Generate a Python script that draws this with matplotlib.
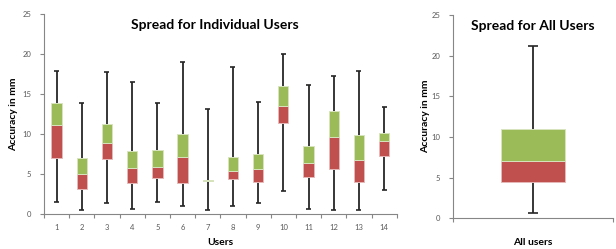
import numpy as np
import matplotlib
matplotlib.use('Agg')
import matplotlib.pyplot as plt

plt.rcParams['font.family'] = ['Lato', 'DejaVu Sans']

# per-user spread (mm)
users = ['1', '2', '3', '4', '5', '6', '7', '8', '9', '10', '11', '12', '13', '14']
mins = [1.5, 0.5, 1.4, 0.7, 1.5, 1.1, 0.5, 1.0, 1.4, 2.9, 0.7, 0.5, 0.5, 3.0]
q1 = [7.0, 3.15, 6.95, 3.95, 4.6, 3.9, 4.2, 4.45, 4.1, 11.4, 4.7, 5.7, 4.1, 7.3]
medians = [11.15, 5.05, 8.95, 5.8, 5.95, 7.2, 4.2, 5.45, 5.65, 13.55, 6.35, 9.7, 6.75, 9.2]
q3 = [13.85, 7.05, 11.25, 7.85, 8.0, 10.0, 4.3, 7.15, 7.55, 16.05, 8.55, 12.9, 9.95, 10.2]
maxs = [17.85, 13.9, 17.7, 16.55, 13.9, 19.0, 13.2, 18.4, 14.0, 20.0, 16.2, 17.2, 17.9, 13.45]

# all users together
all_label = ['All users']
all_min = [0.6]
all_q1 = [4.5]
all_median = [7.05]
all_q3 = [10.95]
all_max = [21.15]

RED = '#C0504D'
GREEN = '#9BBB59'
RED_EDGE = '#E6B9B8'
GREEN_EDGE = '#D7E4BD'
AXIS = '#868686'
TICK = '#595959'


def draw_boxes(ax, x, lo, q_1, med, q_3, hi, width, capw):
    x = np.asarray(x, dtype=float)
    lo, q_1, med, q_3, hi = map(np.asarray, (lo, q_1, med, q_3, hi))
    ax.vlines(x, lo, hi, color='#262626', lw=1.3, zorder=1)
    ax.hlines(lo, x - capw, x + capw, color='#262626', lw=1.2, zorder=1)
    ax.hlines(hi, x - capw, x + capw, color='#262626', lw=1.2, zorder=1)
    ax.bar(x, med - q_1, width, bottom=q_1, color=RED,
           edgecolor=RED_EDGE, lw=0.7, zorder=2)
    ax.bar(x, q_3 - med, width, bottom=med, color=GREEN,
           edgecolor=GREEN_EDGE, lw=0.7, zorder=2)


def style_axes(ax):
    for s in ['top', 'right']:
        ax.spines[s].set_visible(False)
    for s in ['left', 'bottom']:
        ax.spines[s].set_color(AXIS)
        ax.spines[s].set_linewidth(0.8)
    ax.set_ylim(0, 25)
    ax.set_yticks(range(0, 26, 5))
    ax.tick_params(axis='y', labelsize=5.5, colors=AXIS, labelcolor=TICK,
                   length=3, width=0.8, pad=6)


fig = plt.figure(figsize=(6.16, 2.49), dpi=100)

# individual users
ax1 = fig.add_axes([0.0714, 0.139, 0.5726, 0.805])
pos = np.arange(1, len(users) + 1)
draw_boxes(ax1, pos, mins, q1, medians, q3, maxs, 0.41, 0.1)
style_axes(ax1)
ax1.set_xlim(0.5, len(users) + 0.5)
ax1.set_xticks(pos)
ax1.set_xticklabels(users)
ax1.set_xticks(np.arange(0.5, len(users) + 1), minor=True)
ax1.tick_params(axis='x', which='major', length=0, labelsize=5.5,
                labelcolor=TICK, pad=7)
ax1.tick_params(axis='x', which='minor', length=3, width=0.8, colors=AXIS)
ax1.text(0.485, 0.945, 'Spread for Individual Users', transform=ax1.transAxes,
         ha='center', va='center', fontsize=10, fontweight='bold')
ax1.set_xlabel('Users', fontsize=7.5, fontweight='bold', labelpad=5)
ax1.set_ylabel('Accuracy in mm', fontsize=7.5, fontweight='bold', labelpad=3)

# all users
ax2 = fig.add_axes([0.735, 0.123, 0.26, 0.817])
draw_boxes(ax2, [0], all_min, all_q1, all_median, all_q3, all_max, 0.4, 0.03)
style_axes(ax2)
ax2.set_xlim(-0.5, 0.5)
ax2.set_xticks([-0.5, 0.5])
ax2.set_xticklabels([])
ax2.tick_params(axis='x', length=3, width=0.8, colors=AXIS)
ax2.text(0.5, 0.945, 'Spread for All Users', transform=ax2.transAxes,
         ha='center', va='center', fontsize=10, fontweight='bold')
ax2.set_xlabel(all_label[0], fontsize=7.5, fontweight='bold')
ax2.xaxis.set_label_coords(0.5, -0.097)
ax2.set_ylabel('Accuracy in mm', fontsize=7.5, fontweight='bold', labelpad=1)

fig.savefig('out.png', dpi=100)
